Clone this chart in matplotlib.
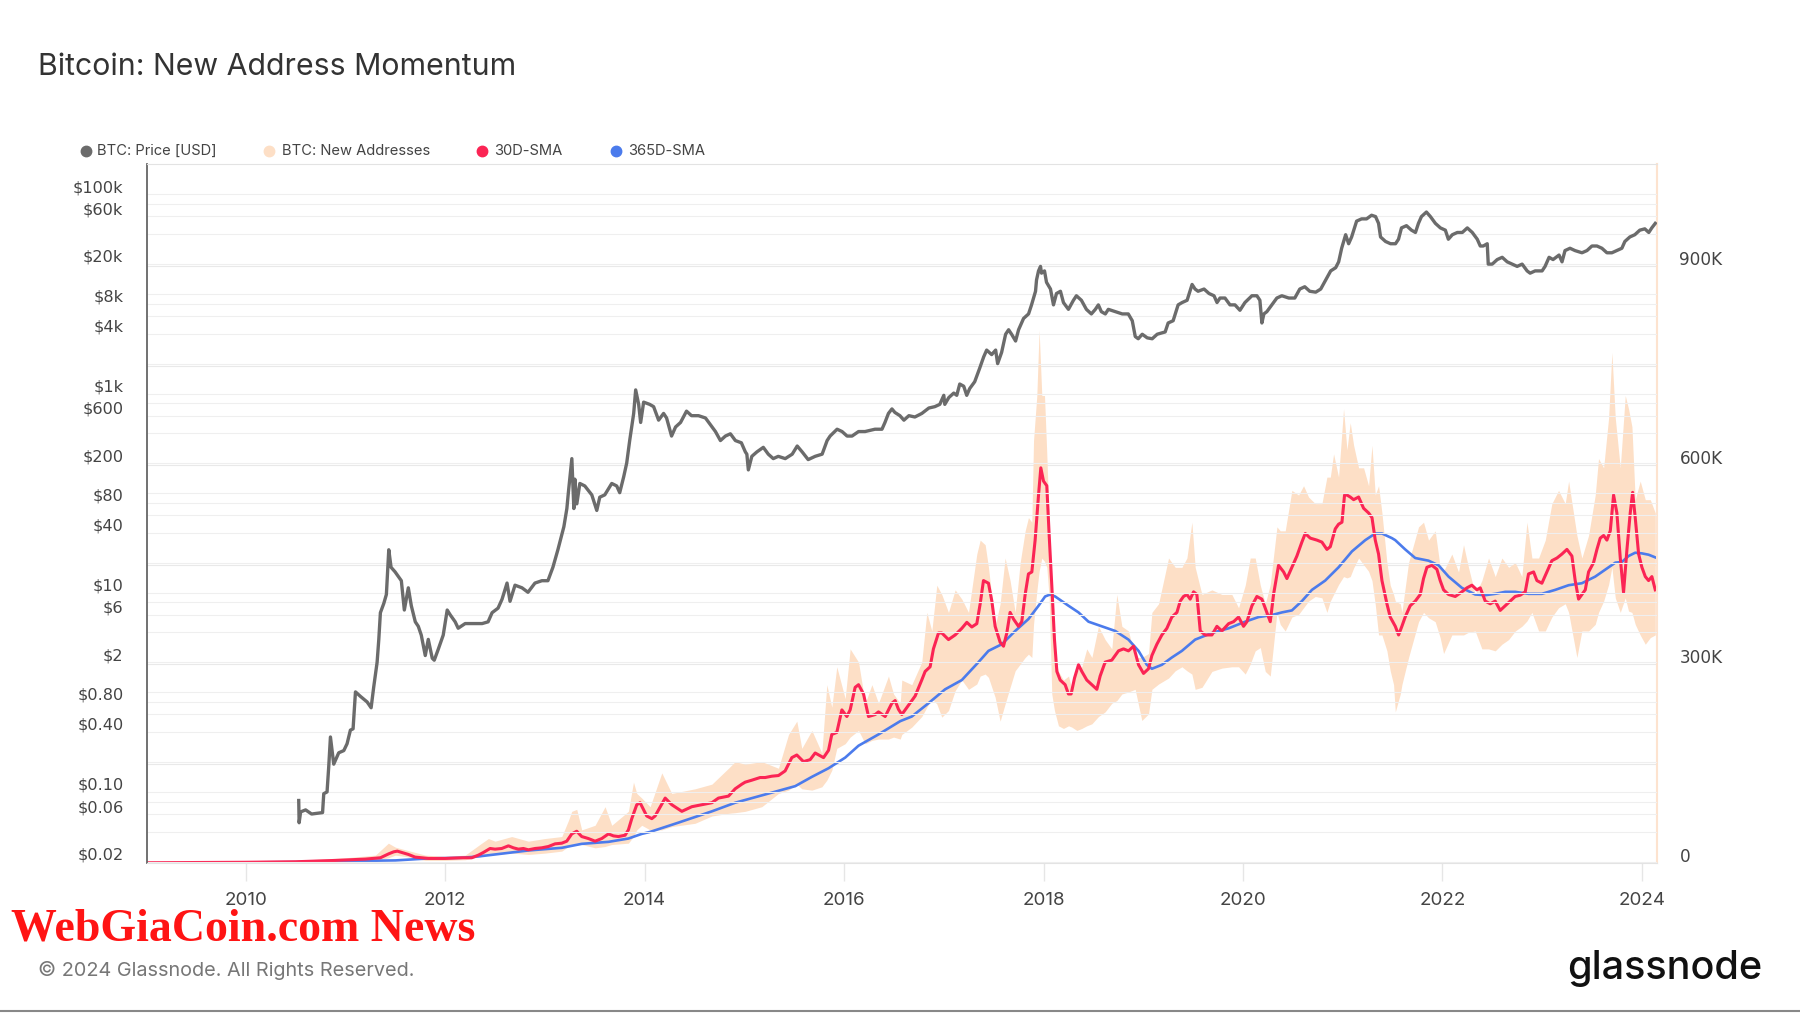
import matplotlib
matplotlib.use("Agg")
import matplotlib.pyplot as plt
from matplotlib.lines import Line2D
from matplotlib.transforms import ScaledTranslation
from matplotlib.ticker import NullLocator

# BTC price (USD), decimal year
price_year = [
    2010.531, 2010.535, 2010.55, 2010.60, 2010.66, 2010.72, 2010.77, 2010.782, 2010.815, 2010.832,
    2010.849, 2010.882, 2010.932, 2010.983, 2011.016, 2011.049, 2011.076, 2011.10, 2011.15, 2011.217,
    2011.257, 2011.283, 2011.317, 2011.334, 2011.35, 2011.384, 2011.41, 2011.434, 2011.457, 2011.497,
    2011.56, 2011.59, 2011.63, 2011.66, 2011.70, 2011.73, 2011.76, 2011.80, 2011.83, 2011.87,
    2011.89, 2011.93, 2011.98, 2012.02, 2012.05, 2012.10, 2012.13, 2012.20, 2012.27, 2012.37,
    2012.43, 2012.47, 2012.53, 2012.57, 2012.62, 2012.65, 2012.70, 2012.77, 2012.83, 2012.90,
    2012.97, 2013.03, 2013.08, 2013.13, 2013.19, 2013.22, 2013.235, 2013.27, 2013.29, 2013.30,
    2013.32, 2013.35, 2013.40, 2013.47, 2013.52, 2013.55, 2013.60, 2013.67, 2013.72, 2013.75,
    2013.79, 2013.82, 2013.85, 2013.89, 2013.91, 2013.94, 2013.96, 2013.99, 2014.05, 2014.09,
    2014.14, 2014.19, 2014.22, 2014.27, 2014.31, 2014.36, 2014.42, 2014.47, 2014.54, 2014.61,
    2014.66, 2014.71, 2014.76, 2014.81, 2014.86, 2014.91, 2014.97, 2015.01, 2015.025, 2015.04,
    2015.075, 2015.125, 2015.19, 2015.24, 2015.29, 2015.34, 2015.41, 2015.48, 2015.53, 2015.58,
    2015.64, 2015.71, 2015.78, 2015.83, 2015.86, 2015.93, 2015.98, 2016.03, 2016.08, 2016.145,
    2016.21, 2016.31, 2016.38, 2016.41, 2016.445, 2016.48, 2016.51, 2016.56, 2016.60, 2016.65,
    2016.71, 2016.78, 2016.85, 2016.91, 2016.96, 2017.00, 2017.01, 2017.05, 2017.10, 2017.13,
    2017.16, 2017.20, 2017.23, 2017.26, 2017.31, 2017.36, 2017.40, 2017.43, 2017.48, 2017.52,
    2017.54, 2017.58, 2017.62, 2017.65, 2017.68, 2017.72, 2017.75, 2017.80, 2017.85, 2017.88,
    2017.92, 2017.93, 2017.95, 2017.97, 2017.98, 2018.01, 2018.03, 2018.07, 2018.10, 2018.13,
    2018.17, 2018.20, 2018.25, 2018.30, 2018.33, 2018.38, 2018.43, 2018.48, 2018.52, 2018.55,
    2018.58, 2018.62, 2018.65, 2018.72, 2018.79, 2018.85, 2018.89, 2018.92, 2018.95, 2018.99,
    2019.04, 2019.09, 2019.14, 2019.22, 2019.25, 2019.30, 2019.35, 2019.39, 2019.44, 2019.49,
    2019.52, 2019.55, 2019.61, 2019.66, 2019.71, 2019.74, 2019.77, 2019.82, 2019.87, 2019.92,
    2019.97, 2020.02, 2020.09, 2020.14, 2020.17, 2020.19, 2020.21, 2020.24, 2020.29, 2020.34,
    2020.39, 2020.46, 2020.52, 2020.57, 2020.62, 2020.67, 2020.73, 2020.78, 2020.83, 2020.88,
    2020.93, 2020.96, 2020.99, 2021.03, 2021.06, 2021.09, 2021.14, 2021.19, 2021.24, 2021.29,
    2021.33, 2021.36, 2021.38, 2021.43, 2021.48, 2021.53, 2021.56, 2021.59, 2021.64, 2021.69,
    2021.73, 2021.76, 2021.79, 2021.84, 2021.88, 2021.93, 2021.98, 2022.03, 2022.06, 2022.10,
    2022.15, 2022.20, 2022.25, 2022.30, 2022.35, 2022.38, 2022.41, 2022.45, 2022.46, 2022.50,
    2022.55, 2022.60, 2022.65, 2022.70, 2022.75, 2022.80, 2022.85, 2022.88, 2022.93, 2023.00,
    2023.03, 2023.07, 2023.11, 2023.17, 2023.20, 2023.23, 2023.28, 2023.33, 2023.40, 2023.45,
    2023.50, 2023.55, 2023.60, 2023.65, 2023.70, 2023.75, 2023.80, 2023.83, 2023.88, 2023.93,
    2023.98, 2024.03, 2024.07, 2024.10, 2024.135,
]
price_usd = [
    0.082, 0.049, 0.063, 0.066, 0.060, 0.061, 0.062, 0.096, 0.10, 0.18,
    0.356, 0.19, 0.247, 0.26, 0.305, 0.417, 0.43, 1.01, 0.91, 0.80,
    0.70, 1.13, 2.0, 3.4, 6.3, 7.8, 9.6, 27, 18, 16.2,
    13.2, 6.7, 11.2, 7.4, 5.1, 4.6, 3.75, 2.34, 3.4, 2.2,
    2.1, 2.7, 3.75, 6.7, 6.0, 5.1, 4.4, 4.9, 4.9, 4.9,
    5.1, 6.3, 7.0, 8.6, 12.5, 8.2, 11.9, 11.2, 10.1, 12.5,
    13.2, 13.2, 18, 27, 46, 70, 101, 222, 70, 138,
    78, 125, 118, 96, 67, 91, 96, 125, 118, 101,
    146, 200, 337, 630, 1087, 778, 512, 819, 778, 738,
    540, 631, 568, 374, 461, 512, 665, 599, 599, 568,
    486, 415, 337, 374, 394, 337, 320, 259, 246, 171,
    234, 259, 288, 246, 222, 234, 222, 246, 297, 259,
    217, 234, 246, 337, 374, 438, 415, 374, 374, 415,
    415, 438, 438, 512, 631, 700, 645, 599, 540, 599,
    581, 631, 715, 738, 778, 959, 778, 910, 1010, 959,
    1245, 1183, 959, 1122, 1313, 1796, 2333, 2729, 2459, 2729,
    1996, 2589, 3936, 4368, 3936, 3366, 4368, 5671, 6295, 7760,
    10630, 13800, 17020, 18880, 16150, 17020, 13090, 11190, 7760, 10090,
    10630, 8190, 7000, 8630, 9580, 8630, 7000, 6295, 7000, 7760,
    6635, 6295, 7000, 6635, 6295, 6295, 5380, 3733, 3546, 3936,
    3622, 3546, 3936, 4150, 5105, 5380, 7760, 8190, 8630, 12440,
    11190, 10630, 11190, 10090, 9580, 8190, 9090, 9090, 7760, 7760,
    6850, 8190, 9580, 9580, 8630, 5105, 6295, 6635, 7760, 9090,
    9580, 9090, 9090, 11190, 11800, 10630, 10410, 11190, 13800, 17020,
    18330, 20990, 28730, 39290, 31900, 37300, 53800, 56660, 56660, 61630,
    59740, 51070, 37300, 33600, 31900, 31900, 35380, 46000, 48420, 43650,
    41380, 51070, 59740, 66370, 59740, 51070, 46000, 43650, 35380, 39290,
    41380, 41380, 46000, 41380, 35380, 30270, 30270, 31900, 19910, 19910,
    22120, 23300, 20990, 19910, 18890, 19910, 17020, 16150, 17020, 17020,
    18890, 23300, 22120, 24550, 20990, 27230, 28730, 27230, 25880, 27230,
    30270, 30270, 28730, 25880, 25880, 27230, 28730, 33600, 37300, 39290,
    43650, 45000, 41380, 46000, 51070,
]

# 30D-SMA of new addresses (thousands)
sma30_year = [
    2009.01, 2009.5, 2010.0, 2010.5, 2010.9, 2011.2, 2011.35, 2011.434, 2011.484, 2011.52,
    2011.564, 2011.631, 2011.698, 2011.764, 2011.831, 2011.999, 2012.166, 2012.266, 2012.333, 2012.383,
    2012.45, 2012.50, 2012.567, 2012.634, 2012.684, 2012.734, 2012.784, 2012.834, 2012.901, 2012.968,
    2013.035, 2013.102, 2013.169, 2013.219, 2013.269, 2013.319, 2013.369, 2013.436, 2013.503, 2013.57,
    2013.637, 2013.687, 2013.737, 2013.804, 2013.837, 2013.871, 2013.921, 2013.954, 2013.988, 2014.021,
    2014.072, 2014.105, 2014.206, 2014.272, 2014.373, 2014.473, 2014.573, 2014.674, 2014.74, 2014.841,
    2014.908, 2014.975, 2015.008, 2015.075, 2015.158, 2015.209, 2015.275, 2015.342, 2015.409, 2015.476,
    2015.526, 2015.593, 2015.66, 2015.71, 2015.794, 2015.844, 2015.877, 2015.927, 2015.978, 2016.028,
    2016.061, 2016.111, 2016.145, 2016.195, 2016.245, 2016.312, 2016.345, 2016.412, 2016.479, 2016.512,
    2016.545, 2016.579, 2016.646, 2016.713, 2016.779, 2016.813, 2016.863, 2016.896, 2016.947, 2016.98,
    2017.047, 2017.114, 2017.181, 2017.231, 2017.281, 2017.331, 2017.365, 2017.398, 2017.448, 2017.482,
    2017.515, 2017.565, 2017.599, 2017.632, 2017.665, 2017.699, 2017.749, 2017.782, 2017.816, 2017.849,
    2017.883, 2017.916, 2017.95, 2017.973, 2018.0, 2018.033, 2018.057, 2018.083, 2018.11, 2018.134,
    2018.167, 2018.217, 2018.25, 2018.277, 2018.311, 2018.351, 2018.384, 2018.434, 2018.485, 2018.535,
    2018.568, 2018.618, 2018.685, 2018.752, 2018.802, 2018.852, 2018.903, 2018.953, 2019.003, 2019.053,
    2019.087, 2019.137, 2019.187, 2019.237, 2019.287, 2019.338, 2019.371, 2019.404, 2019.438, 2019.471,
    2019.505, 2019.538, 2019.572, 2019.622, 2019.689, 2019.739, 2019.789, 2019.856, 2019.906, 2019.956,
    2020.006, 2020.04, 2020.09, 2020.14, 2020.19, 2020.24, 2020.274, 2020.307, 2020.357, 2020.408,
    2020.441, 2020.491, 2020.541, 2020.591, 2020.625, 2020.675, 2020.742, 2020.792, 2020.842, 2020.876,
    2020.926, 2020.959, 2020.993, 2021.019, 2021.043, 2021.076, 2021.11, 2021.16, 2021.21, 2021.26,
    2021.294, 2021.327, 2021.36, 2021.394, 2021.444, 2021.477, 2021.528, 2021.561, 2021.594, 2021.627,
    2021.677, 2021.728, 2021.778, 2021.811, 2021.845, 2021.895, 2021.945, 2021.978, 2022.012, 2022.062,
    2022.129, 2022.196, 2022.246, 2022.296, 2022.346, 2022.38, 2022.43, 2022.48, 2022.53, 2022.58,
    2022.63, 2022.68, 2022.73, 2022.781, 2022.831, 2022.864, 2022.915, 2022.948, 2022.998, 2023.048,
    2023.098, 2023.149, 2023.199, 2023.249, 2023.299, 2023.332, 2023.366, 2023.399, 2023.433, 2023.466,
    2023.516, 2023.55, 2023.583, 2023.617, 2023.65, 2023.684, 2023.717, 2023.75, 2023.784, 2023.817,
    2023.851, 2023.884, 2023.908, 2023.934, 2023.968, 2024.001, 2024.035, 2024.068, 2024.101, 2024.135,
]
sma30_k = [
    0.5, 0.8, 1.2, 2, 4, 6, 8, 14, 17, 18,
    16, 13, 9, 8, 7, 7, 8, 8, 12, 16,
    22, 21, 22, 26, 23, 21, 22, 20, 22, 23,
    25, 29, 30, 33, 44, 48, 40, 37, 33, 37,
    44, 41, 40, 42, 50, 67, 88, 91, 81, 71,
    67, 71, 98, 88, 78, 85, 88, 91, 98, 101,
    112, 119, 122, 125, 129, 129, 131, 132, 139, 159,
    163, 153, 156, 166, 159, 170, 194, 197, 231, 221,
    231, 265, 269, 255, 221, 224, 228, 221, 241, 245,
    232, 224, 238, 252, 276, 289, 296, 323, 347, 347,
    337, 344, 354, 363, 356, 361, 391, 426, 422, 395,
    357, 333, 327, 347, 378, 368, 357, 364, 405, 436,
    439, 487, 555, 596, 576, 569, 494, 419, 337, 289,
    276, 269, 255, 255, 279, 299, 289, 276, 269, 262,
    282, 303, 306, 320, 323, 320, 327, 299, 286, 293,
    313, 330, 344, 354, 371, 378, 395, 402, 405, 398,
    409, 405, 350, 344, 344, 357, 350, 361, 364, 371,
    357, 364, 388, 402, 398, 378, 364, 405, 449, 439,
    429, 446, 463, 484, 497, 490, 487, 484, 473, 477,
    504, 511, 514, 555, 555, 552, 548, 552, 535, 528,
    521, 487, 466, 426, 391, 371, 357, 344, 357, 371,
    388, 395, 405, 429, 446, 449, 443, 426, 412, 405,
    402, 409, 415, 419, 412, 415, 395, 391, 395, 381,
    388, 395, 402, 404, 409, 436, 439, 426, 422, 439,
    456, 460, 466, 473, 463, 426, 398, 405, 412, 439,
    453, 473, 490, 494, 487, 501, 555, 528, 460, 408,
    473, 528, 559, 521, 466, 446, 432, 426, 432, 412,
]

# 365D-SMA of new addresses (thousands)
sma365_year = [
    2010.0, 2010.5, 2011.0, 2011.5, 2011.831, 2012.166, 2012.333, 2012.50, 2012.834, 2013.169,
    2013.369, 2013.637, 2013.837, 2013.971, 2014.055, 2014.339, 2014.674, 2014.908, 2015.342, 2015.51,
    2015.677, 2015.844, 2016.011, 2016.145, 2016.345, 2016.563, 2016.679, 2016.846, 2017.013, 2017.181,
    2017.348, 2017.448, 2017.582, 2017.716, 2017.849, 2017.95, 2018.016, 2018.067, 2018.117, 2018.251,
    2018.351, 2018.451, 2018.585, 2018.719, 2018.852, 2018.953, 2019.036, 2019.087, 2019.187, 2019.287,
    2019.388, 2019.521, 2019.689, 2019.856, 2020.023, 2020.157, 2020.29, 2020.391, 2020.491, 2020.591,
    2020.692, 2020.825, 2020.959, 2021.093, 2021.227, 2021.327, 2021.394, 2021.494, 2021.527, 2021.627,
    2021.728, 2021.861, 2021.962, 2022.062, 2022.196, 2022.329, 2022.43, 2022.53, 2022.63, 2022.731,
    2022.864, 2022.998, 2023.132, 2023.266, 2023.399, 2023.533, 2023.667, 2023.734, 2023.8, 2023.867,
    2023.934, 2024.001, 2024.068, 2024.135,
]
sma365_k = [
    1, 1.5, 3, 4, 7, 8, 10, 13, 19, 23,
    29, 32, 37, 44, 47, 61, 78, 91, 109, 116,
    130, 143, 159, 177, 194, 214, 221, 241, 262, 276,
    303, 320, 330, 350, 368, 388, 402, 405, 402, 388,
    378, 364, 357, 350, 337, 320, 299, 293, 299, 310,
    320, 337, 347, 354, 364, 371, 374, 378, 381, 395,
    412, 426, 446, 470, 487, 497, 497, 490, 487, 473,
    460, 456, 449, 432, 415, 405, 404, 406, 409, 409,
    406, 406, 412, 419, 422, 432, 446, 453, 454, 463,
    468, 467, 465, 461,
]

# BTC: New Addresses, daily band read as upper / lower envelope (thousands)
addr_year = [
    2009.01, 2009.5, 2010.0, 2010.5, 2011.0, 2011.3, 2011.43, 2011.5, 2011.6, 2011.8,
    2012.0, 2012.2, 2012.366, 2012.433, 2012.50, 2012.667, 2012.834, 2013.0, 2013.169, 2013.235,
    2013.269, 2013.319, 2013.369, 2013.503, 2013.603, 2013.67, 2013.837, 2013.888, 2013.921, 2013.971,
    2014.055, 2014.172, 2014.272, 2014.506, 2014.674, 2014.841, 2014.908, 2015.008, 2015.175, 2015.342,
    2015.443, 2015.526, 2015.576, 2015.677, 2015.777, 2015.827, 2015.877, 2015.927, 2016.011, 2016.061,
    2016.145, 2016.212, 2016.279, 2016.345, 2016.445, 2016.496, 2016.563, 2016.579, 2016.679, 2016.779,
    2016.83, 2016.88, 2016.93, 2016.98, 2017.047, 2017.114, 2017.181, 2017.248, 2017.331, 2017.365,
    2017.415, 2017.448, 2017.515, 2017.565, 2017.615, 2017.665, 2017.716, 2017.766, 2017.816, 2017.849,
    2017.883, 2017.9, 2017.933, 2017.956, 2017.983, 2018.01, 2018.033, 2018.057, 2018.083, 2018.11,
    2018.15, 2018.2, 2018.251, 2018.284, 2018.334, 2018.384, 2018.434, 2018.485, 2018.551, 2018.618,
    2018.685, 2018.735, 2018.786, 2018.852, 2018.919, 2018.986, 2019.053, 2019.087, 2019.154, 2019.254,
    2019.321, 2019.388, 2019.438, 2019.488, 2019.521, 2019.589, 2019.689, 2019.789, 2019.889, 2019.956,
    2020.023, 2020.073, 2020.123, 2020.174, 2020.224, 2020.274, 2020.341, 2020.374, 2020.424, 2020.491,
    2020.558, 2020.608, 2020.658, 2020.725, 2020.792, 2020.842, 2020.876, 2020.909, 2020.959, 2021.009,
    2021.043, 2021.076, 2021.11, 2021.16, 2021.21, 2021.26, 2021.294, 2021.327, 2021.36, 2021.394,
    2021.444, 2021.477, 2021.511, 2021.528, 2021.578, 2021.594, 2021.661, 2021.761, 2021.811, 2021.861,
    2021.928, 2021.978, 2022.012, 2022.095, 2022.162, 2022.212, 2022.262, 2022.329, 2022.396, 2022.463,
    2022.53, 2022.597, 2022.664, 2022.731, 2022.797, 2022.848, 2022.898, 2022.965, 2023.032, 2023.098,
    2023.165, 2023.232, 2023.266, 2023.349, 2023.399, 2023.466, 2023.533, 2023.566, 2023.617, 2023.667,
    2023.7, 2023.734, 2023.784, 2023.834, 2023.867, 2023.901, 2023.934, 2023.984, 2024.035, 2024.085,
    2024.135,
]
addr_hi_k = [
    1, 2, 3, 4, 8, 12, 30, 24, 20, 12,
    10, 12, 30, 37, 33, 40, 33, 37, 40, 64,
    78, 81, 50, 57, 85, 57, 78, 122, 105, 98,
    85, 136, 105, 112, 119, 143, 153, 149, 153, 143,
    194, 214, 173, 200, 166, 269, 235, 296, 248, 323,
    303, 241, 269, 241, 282, 255, 241, 276, 269, 303,
    378, 350, 419, 405, 378, 412, 398, 378, 466, 487,
    480, 446, 357, 391, 460, 426, 378, 453, 501, 521,
    514, 637, 705, 804, 705, 705, 617, 514, 391, 310,
    289, 276, 282, 262, 289, 296, 323, 310, 357, 337,
    323, 405, 357, 350, 310, 310, 316, 378, 391, 460,
    446, 446, 460, 514, 446, 405, 412, 405, 405, 385,
    419, 460, 460, 419, 391, 420, 507, 501, 501, 562,
    555, 569, 552, 542, 542, 582, 582, 617, 582, 685,
    623, 664, 630, 596, 596, 569, 630, 555, 569, 528,
    453, 419, 405, 395, 391, 378, 453, 507, 514, 487,
    501, 446, 440, 466, 439, 480, 446, 405, 426, 460,
    432, 460, 446, 453, 432, 514, 460, 460, 487, 542,
    562, 542, 576, 494, 460, 494, 555, 610, 596, 671,
    770, 671, 596, 705, 685, 658, 548, 576, 548, 548,
    528,
]
addr_lo_k = [
    0, 0, 0, 1, 3, 4, 8, 12, 10, 4,
    4, 5, 10, 15, 13, 15, 13, 15, 18, 25,
    28, 30, 28, 23, 25, 28, 30, 40, 50, 57,
    50, 50, 55, 60, 71, 75, 76, 78, 85, 105,
    110, 119, 112, 110, 115, 125, 140, 173, 180, 190,
    200, 180, 185, 187, 187, 190, 187, 194, 205, 221,
    235, 248, 240, 220, 230, 260, 276, 262, 270, 282,
    285, 280, 250, 214, 240, 265, 290, 300, 310, 315,
    310, 360, 410, 440, 460, 455, 446, 400, 255, 230,
    207, 203, 207, 205, 200, 203, 207, 210, 221, 228,
    241, 245, 255, 258, 262, 215, 225, 262, 270, 279,
    290, 296, 290, 285, 262, 265, 289, 294, 296, 296,
    285, 300, 320, 325, 289, 282, 378, 360, 350, 371,
    375, 385, 395, 402, 400, 378, 395, 405, 420, 432,
    430, 432, 445, 460, 450, 440, 426, 390, 344, 344,
    320, 290, 269, 228, 255, 269, 310, 364, 378, 370,
    364, 340, 316, 344, 344, 344, 348, 350, 323, 323,
    320, 330, 337, 350, 357, 365, 378, 350, 350, 371,
    385, 391, 378, 310, 350, 350, 360, 378, 395, 420,
    446, 400, 378, 400, 380, 378, 360, 344, 330, 340,
    344,
]

# axis ticks and labels
left_ticks = [
    0.02, 0.04, 0.06, 0.08, 0.1, 0.2, 0.4, 0.6, 0.8, 1, 2, 4, 6, 8, 10, 20, 40, 60, 80,
    100, 200, 400, 600, 800, 1000, 2000, 4000, 6000, 8000, 10000, 20000, 40000, 60000,
    80000, 100000,
]
left_labels = [
    "$0.02", "", "$0.06", "", "$0.10", "", "$0.40", "", "$0.80", "", "$2", "", "$6", "", "$10",
    "", "$40", "", "$80", "", "$200", "", "$600", "", "$1k", "", "$4k", "", "$8k", "", "$20k",
    "", "$60k", "", "$100k",
]
right_ticks = [0, 150, 300, 450, 600, 750, 900]
right_labels = ["0", "", "300K", "", "600K", "", "900K"]
year_ticks = [2010, 2012, 2014, 2016, 2018, 2020, 2022, 2024]

GREY = "#6b6b6b"
PEACH = "#fddfc6"
RED = "#fb2454"
BLUE = "#4b7bec"
TXT = "#444444"

fig = plt.figure(figsize=(18, 10.13), dpi=100)
ax = fig.add_axes([0.0817, 0.148, 0.839, 0.690])
ax2 = ax.twinx()
ax.set_zorder(2)
ax2.set_zorder(1)
ax.patch.set_visible(False)

# new addresses on the right axis
ax2.fill_between(addr_year, addr_lo_k, addr_hi_k, color=PEACH, lw=0)
ax2.plot(sma365_year, sma365_k, color=BLUE, lw=1.9)
ax2.plot(sma30_year, sma30_k, color=RED, lw=2.2)
ax2.set_ylim(0, 1054)
ax2.set_yticks(right_ticks)
ax2.set_yticklabels(right_labels, fontsize=12.2, color=TXT, family="DejaVu Sans")
ax2.tick_params(axis="y", length=0, pad=16)
ax2.grid(axis="y", color="#e9e9e9", lw=0.8)
ax2.set_axisbelow(True)

# price on the left log axis
ax.plot(price_year, price_usd, color=GREY, lw=2.4, solid_joinstyle="round")
ax.set_yscale("log")
ax.set_ylim(0.0193, 201000)
ax.set_yticks(left_ticks)
ax.yaxis.set_minor_locator(NullLocator())
ax.set_yticklabels(left_labels, fontsize=11.6, color=TXT, family="DejaVu Sans")
ax.tick_params(axis="y", length=0, pad=17)
ax.grid(axis="y", color="#efefef", lw=0.8)

ax.set_xlim(2009.01, 2024.155)
ax.set_xticks(year_ticks)
ax.set_xticklabels([str(y) for y in year_ticks], fontsize=13.5, color=TXT, family="Inter")
ax.tick_params(axis="x", length=13, width=1, color="#e6e6e6", pad=8)

# labels sit a bit above their tick
shift = ScaledTranslation(0, 8 / 100, fig.dpi_scale_trans)
for lab in ax.get_yticklabels() + ax2.get_yticklabels():
    lab.set_transform(lab.get_transform() + shift)

for s in ["top", "bottom"]:
    ax.spines[s].set_color("#e3e3e3")
ax.spines["left"].set_color("#666666")
ax.spines["left"].set_linewidth(1.3)
ax.spines["right"].set_visible(False)
for s in ["top", "bottom", "left"]:
    ax2.spines[s].set_visible(False)
ax2.spines["right"].set_color("#fde3cf")
ax2.spines["right"].set_linewidth(1.5)

# title
fig.text(0.021, 0.9335, "Bitcoin: New Address Momentum", fontsize=21.8, color="#333333",
         family="Inter", va="center")

# legend
legend_items = [
    (0.0478, 0.0539, "BTC: Price [USD]", GREY),
    (0.1494, 0.1567, "BTC: New Addresses", PEACH),
    (0.2678, 0.2744, "30D-SMA", RED),
    (0.3422, 0.3489, "365D-SMA", BLUE),
]
for mx, tx, label, col in legend_items:
    fig.add_artist(Line2D([mx], [0.851], marker="o", markersize=7.5, color=col, lw=0,
                          transform=fig.transFigure))
    fig.text(tx, 0.851, label, fontsize=10.6, color=TXT, family="Inter", va="center")

# footer
fig.text(0.006, 0.0825, "WebGiaCoin.com News", fontsize=33, color="#ff1414",
         family="Liberation Serif", weight="bold", va="center")
fig.text(0.021, 0.042, "\u00a9 2024 Glassnode. All Rights Reserved.", fontsize=14.3,
         color="#777777", family="Inter", va="center")
fig.text(0.979, 0.044, "glassnode", fontsize=28.5, color="#111111", family="Inter",
         weight="medium", ha="right", va="center")
fig.add_artist(Line2D([0, 1], [0.0015, 0.0015], color="#888888", lw=1.5,
                      transform=fig.transFigure))

fig.savefig("out.png", dpi=100)
